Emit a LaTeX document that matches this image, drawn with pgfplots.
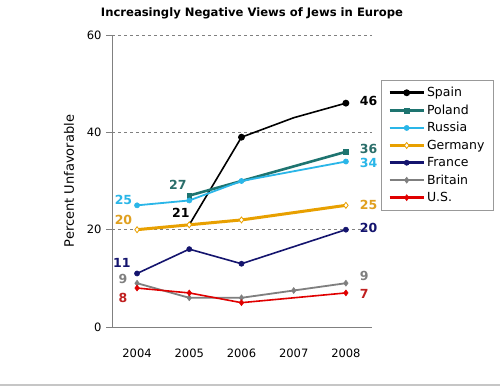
\documentclass[border=0pt]{standalone}
\usepackage{pgfplots}
\pgfplotsset{compat=1.18}
\usepackage{fontspec}
\setmainfont{DejaVu Sans}
\definecolor{cSpain}{HTML}{000000}
\definecolor{cPoland}{HTML}{1E7470}
\definecolor{cRussia}{HTML}{2AB6E8}
\definecolor{cGermany}{HTML}{E8A000}
\definecolor{cFrance}{HTML}{14146E}
\definecolor{cBritain}{HTML}{7F7F7F}
\definecolor{cUS}{HTML}{E00000}
\definecolor{lPoland}{HTML}{2A6E6A}
\definecolor{lGermany}{HTML}{E0A020}
\definecolor{lUS}{HTML}{C02020}
\begin{document}
\begin{tikzpicture}
\useasboundingbox (0,0) rectangle (500pt,386pt);
\fill[white] (0,0) rectangle (500pt,386pt);
\fill[gray!45] (0,0) rectangle (500pt,2pt);
\node[font=\bfseries\fontsize{11.6}{14}\selectfont] at (252pt,373pt) {Increasingly Negative Views of Jews in Europe};
\begin{axis}[
  at={(112pt,59pt)}, anchor=south west,
  scale only axis, width=260pt, height=292pt,
  xmin=2003.52, xmax=2008.5, ymin=0, ymax=60,
  axis x line*=bottom, axis y line*=left,
  axis line style={draw=gray, line width=0.8pt},
  xtick={2004,2005,2006,2007,2008},
  xticklabels={2004,2005,2006,2007,2008},
  ytick={0,20,40,60},
  xtick style={draw=none},
  ytick style={draw=gray, line width=0.8pt, solid},
  tick align=outside, major tick length=6pt,
  ymajorgrids, grid style={dashed, gray, line width=0.8pt},
  /pgf/number format/assume math mode=true,
  ticklabel style={font=\fontsize{11.5}{12}\selectfont},
  xticklabel style={yshift=-12pt},
  yticklabel style={xshift=-1pt},
  ylabel={Percent Unfavorable},
  ylabel style={font=\fontsize{13}{14}\selectfont, yshift=6pt},
  clip=false,
  legend cell align=left,
  legend style={at={(1.035,0.846)}, anchor=north west, draw=gray!80, line width=0.6pt,
    font=\fontsize{12.5}{13}\selectfont, row sep=2.6pt, inner xsep=7pt, inner ysep=5pt},
  legend image code/.code={\draw[#1, line width=2.6pt] (0pt,0pt) -- (34pt,0pt); \draw[#1, mark indices={1}] plot coordinates {(17pt,0pt)};},
]
% Spain
\addplot[color=cSpain, line width=1.6pt, mark=*, mark size=2.6pt, mark indices={2,4}]
  coordinates {(2005,21) (2006,39) (2007,43) (2008,46)};
\addlegendentry{Spain}
% Poland
\addplot[color=cPoland, line width=2.6pt, mark=square*, mark size=2.4pt, mark options={line width=0.5pt}, mark indices={1,4}]
  coordinates {(2005,27) (2006,30) (2007,33) (2008,36)};
\addlegendentry{Poland}
% Russia
\addplot[color=cRussia, line width=1.8pt, mark=*, mark size=2.6pt, mark options={line width=0.5pt}, mark indices={1,2,3,5}]
  coordinates {(2004,25) (2005,26) (2006,30) (2007,32) (2008,34)};
\addlegendentry{Russia}
% Germany
\addplot[color=cGermany, line width=3pt, mark=diamond*, mark size=3pt, mark options={fill=white, line width=0.8pt}, mark indices={1,2,3,5}]
  coordinates {(2004,20) (2005,21) (2006,22) (2007,23.5) (2008,25)};
\addlegendentry{Germany}
% France
\addplot[color=cFrance, line width=1.6pt, mark=*, mark size=2.6pt, mark options={line width=0.5pt}, mark indices={1,2,3,5}]
  coordinates {(2004,11) (2005,16) (2006,13) (2007,16.5) (2008,20)};
\addlegendentry{France}
% Britain
\addplot[color=cBritain, line width=1.8pt, mark=diamond*, mark size=3pt, mark options={line width=0.5pt}, mark indices={1,2,3,4,5}]
  coordinates {(2004,9) (2005,6) (2006,6) (2007,7.5) (2008,9)};
\addlegendentry{Britain}
% U.S.
\addplot[color=cUS, line width=1.6pt, mark=diamond*, mark size=3pt, mark options={line width=0.5pt}, mark indices={1,2,3,5}]
  coordinates {(2004,8) (2005,7) (2006,5) (2007,6) (2008,7)};
\addlegendentry{U.S.}
% value labels
\begin{scope}[font=\fontsize{12.5}{13}\selectfont\bfseries]
\node[anchor=west, text=cSpain] at (axis cs:2008.2,46.4) {46};
\node[anchor=west, text=lPoland] at (axis cs:2008.2,36.6) {36};
\node[anchor=west, text=cRussia] at (axis cs:2008.2,33.8) {34};
\node[anchor=west, text=lGermany] at (axis cs:2008.2,25) {25};
\node[anchor=west, text=cFrance] at (axis cs:2008.2,20.3) {20};
\node[anchor=west, text=cBritain] at (axis cs:2008.2,10.5) {9};
\node[anchor=west, text=lUS] at (axis cs:2008.2,6.7) {7};
\node[text=cRussia] at (axis cs:2003.74,26.2) {25};
\node[text=lGermany] at (axis cs:2003.74,22) {20};
\node[text=lPoland] at (axis cs:2004.78,29.2) {27};
\node[text=cSpain] at (axis cs:2004.84,23.5) {21};
\node[text=cFrance] at (axis cs:2003.71,13.1) {11};
\node[text=cBritain] at (axis cs:2003.73,9.8) {9};
\node[text=lUS] at (axis cs:2003.73,6.0) {8};
\end{scope}
\end{axis}
\end{tikzpicture}
\end{document}
